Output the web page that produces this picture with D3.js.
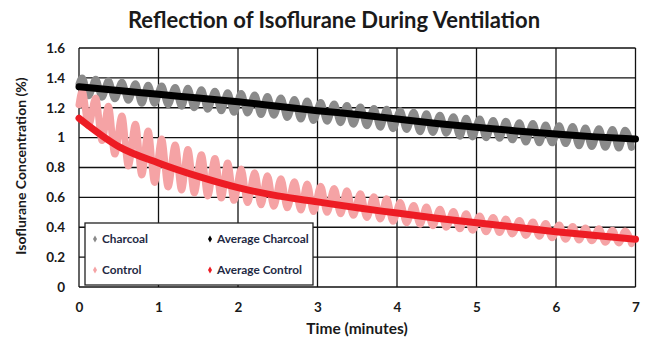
<!DOCTYPE html>
<html>
<head>
<meta charset="utf-8">
<script src="https://cdn.jsdelivr.net/npm/d3@7"></script>
<style>
  html, body { margin: 0; padding: 0; background: #fff; }
  svg text { font-family: Lato, "Open Sans", sans-serif; font-weight: bold; }
</style>
</head>
<body>
<svg id="chart"></svg>
<script>
// ---- data ----
const xTicks = [0, 1, 2, 3, 4, 5, 6, 7]
const yTicks = [0, 0.2, 0.4, 0.6, 0.8, 1, 1.2, 1.4, 1.6]
const yTickLabels = ["0", "0.2", "0.4", "0.6", "0.8", "1", "1.2", "1.4", "1.6"]

// average curves
const avgTimes = [0, 0.5, 1, 1.5, 2, 2.5, 3, 3.5, 4, 4.5, 5, 5.5, 6, 6.5, 7]
const avgCharcoal = [1.34, 1.315, 1.29, 1.265, 1.24, 1.21, 1.18, 1.155, 1.125, 1.095, 1.07, 1.045, 1.025, 1.005, 0.99]
const avgControl = [1.13, 0.94, 0.83, 0.74, 0.665, 0.61, 0.57, 0.53, 0.495, 0.46, 0.43, 0.40, 0.37, 0.345, 0.32]

// raw (breathing) traces: one peak and one trough per breath
const startTime = 0
const charcoalStart = 1.36
const controlStart = 1.22
const peakTimes = [0.04, 0.21, 0.37, 0.54, 0.71, 0.87, 1.04, 1.21, 1.37, 1.54, 1.71, 1.87, 2.04, 2.21,
  2.37, 2.54, 2.71, 2.87, 3.04, 3.21, 3.37, 3.54, 3.71, 3.87, 4.04, 4.21, 4.37, 4.54, 4.71, 4.87,
  5.04, 5.21, 5.37, 5.54, 5.71, 5.87, 6.04, 6.21, 6.37, 6.54, 6.71, 6.87]
const troughTimes = [0.12, 0.29, 0.45, 0.62, 0.79, 0.95, 1.12, 1.29, 1.45, 1.62, 1.79, 1.95, 2.12, 2.29,
  2.45, 2.62, 2.79, 2.95, 3.12, 3.29, 3.45, 3.62, 3.79, 3.95, 4.12, 4.29, 4.45, 4.62, 4.79, 4.95,
  5.12, 5.29, 5.45, 5.62, 5.79, 5.95, 6.12, 6.29, 6.45, 6.62, 6.79, 6.95]
const charcoalPeaks = [1.40, 1.39, 1.38, 1.37, 1.36, 1.35, 1.345, 1.335, 1.33, 1.32, 1.31, 1.30, 1.295, 1.285,
  1.275, 1.265, 1.255, 1.245, 1.235, 1.225, 1.215, 1.205, 1.195, 1.19, 1.18, 1.17, 1.16, 1.15, 1.14, 1.13,
  1.125, 1.115, 1.11, 1.10, 1.095, 1.085, 1.08, 1.075, 1.065, 1.06, 1.055, 1.05]
const charcoalTroughs = [1.28, 1.27, 1.26, 1.25, 1.23, 1.23, 1.22, 1.21, 1.20, 1.19, 1.18, 1.17, 1.165, 1.155,
  1.15, 1.135, 1.125, 1.115, 1.11, 1.10, 1.09, 1.08, 1.07, 1.06, 1.055, 1.04, 1.035, 1.03, 1.01, 1.005,
  1.0, 0.995, 0.985, 0.97, 0.965, 0.965, 0.96, 0.945, 0.94, 0.935, 0.93, 0.935]
const controlPeaks = [1.31, 1.265, 1.21, 1.145, 1.09, 1.045, 0.99, 0.95, 0.92, 0.885, 0.86, 0.83, 0.79, 0.765,
  0.745, 0.725, 0.705, 0.69, 0.675, 0.66, 0.645, 0.625, 0.605, 0.59, 0.565, 0.545, 0.535, 0.52, 0.505, 0.49,
  0.475, 0.465, 0.455, 0.445, 0.435, 0.425, 0.415, 0.405, 0.395, 0.39, 0.38, 0.375]
const controlTroughs = [1.08, 0.98, 0.89, 0.81, 0.75, 0.70, 0.67, 0.65, 0.63, 0.61, 0.595, 0.58, 0.565, 0.55,
  0.54, 0.53, 0.515, 0.505, 0.50, 0.49, 0.48, 0.465, 0.455, 0.44, 0.43, 0.42, 0.41, 0.40, 0.39, 0.38,
  0.37, 0.365, 0.355, 0.345, 0.34, 0.33, 0.32, 0.315, 0.31, 0.30, 0.295, 0.29]

const legendItems = ["Charcoal", "Average Charcoal", "Control", "Average Control"]
const colors = { charcoal: "#8a8a8a", avgCharcoal: "#000000", control: "#f5a3a5", avgControl: "#ed1c24" }

// ---- layout ----
const width = 649, height = 339
const margin = { top: 48, right: 13, bottom: 52, left: 79 }

const svg = d3.select('#chart')
    .attr("width", width)
    .attr("height", height)

const x = d3.scaleLinear().domain([0, 7]).range([margin.left, width - margin.right - 0.5])
const y = d3.scaleLinear().domain([0, 1.6]).range([height - margin.bottom, margin.top])

// title
svg.append("text")
    .attr("x", 334).attr("y", 28)
    .attr("text-anchor", "middle")
    .attr("font-size", 22)
    .attr("fill", "#1a1a1a")
    .text("Reflection of Isoflurane During Ventilation")

// grid
const grid = svg.append("g").attr("stroke", "#111").attr("stroke-width", 1.3)
grid.selectAll(".gx").data(xTicks).join("line")
    .attr("x1", d => x(d)).attr("x2", d => x(d))
    .attr("y1", y(0)).attr("y2", y(1.6))
grid.selectAll(".gy").data(yTicks).join("line")
    .attr("x1", x(0)).attr("x2", x(7))
    .attr("y1", d => y(d)).attr("y2", d => y(d))

// axes labels via d3 axes (no domain / tick lines)
const xAxis = svg.append("g")
    .attr("transform", `translate(0, ${y(0)})`)
    .call(d3.axisBottom(x).tickValues(xTicks).tickSize(0).tickPadding(15).tickFormat(d3.format("d")))
const yAxis = svg.append("g")
    .attr("transform", `translate(${x(0)}, 0)`)
    .call(d3.axisLeft(y).tickValues(yTicks).tickSize(0).tickPadding(14).tickFormat((d, i) => yTickLabels[i]))
for (const ax of [xAxis, yAxis]) {
    ax.select(".domain").remove()
    ax.selectAll("text").attr("font-size", 13.5).attr("fill", "#1a1a1a")
        .style("font-family", "Lato, sans-serif").style("font-weight", "bold")
}

svg.append("text")
    .attr("x", 357).attr("y", 334)
    .attr("text-anchor", "middle")
    .attr("font-size", 15.5)
    .attr("fill", "#1a1a1a")
    .text("Time (minutes)")
svg.append("text")
    .attr("transform", `translate(26, ${166}) rotate(-90)`)
    .attr("text-anchor", "middle")
    .attr("font-size", 14)
    .attr("fill", "#1a1a1a")
    .text("Isoflurane Concentration (%)")

// series
function trace(start, peaks, troughs) {
    const pts = [[startTime, start]]
    peakTimes.forEach((t, i) => pts.push([t, peaks[i]]))
    troughTimes.forEach((t, i) => pts.push([t, troughs[i]]))
    return pts.sort((a, b) => a[0] - b[0])
}
const line = d3.line().x(d => x(d[0])).y(d => y(d[1]))
const plot = svg.append("g").attr("fill", "none").attr("stroke-linecap", "round").attr("stroke-linejoin", "round")

plot.append("path")
    .datum(trace(charcoalStart, charcoalPeaks, charcoalTroughs))
    .attr("d", line.curve(d3.curveMonotoneX))
    .attr("stroke", colors.charcoal).attr("stroke-width", 7)
plot.append("path")
    .datum(trace(controlStart, controlPeaks, controlTroughs))
    .attr("d", line.curve(d3.curveMonotoneX))
    .attr("stroke", colors.control).attr("stroke-width", 7)
plot.append("path")
    .datum(avgTimes.map((t, i) => [t, avgCharcoal[i]]))
    .attr("d", line.curve(d3.curveMonotoneX))
    .attr("stroke", colors.avgCharcoal).attr("stroke-width", 7)
plot.append("path")
    .datum(avgTimes.map((t, i) => [t, avgControl[i]]))
    .attr("d", line.curve(d3.curveMonotoneX))
    .attr("stroke", colors.avgControl).attr("stroke-width", 7)

// legend
const legend = svg.append("g").attr("transform", "translate(85, 223)")
legend.append("rect")
    .attr("width", 228).attr("height", 62)
    .attr("fill", "#fff").attr("stroke", "#222").attr("stroke-width", 1.3)
const legendColors = [colors.charcoal, colors.avgCharcoal, colors.control, colors.avgControl]
const entries = legend.selectAll(".entry").data(legendItems).join("g")
    .attr("transform", (d, i) => `translate(${i % 2 === 0 ? 10 : 125}, ${i < 2 ? 16 : 47})`)
entries.append("path")
    .attr("d", d3.symbol(d3.symbolDiamond, 14))
    .attr("fill", (d, i) => legendColors[i])
entries.append("text")
    .attr("x", 7).attr("y", 4)
    .attr("font-size", 11.8)
    .attr("fill", "#1f2a44")
    .text(d => d)
</script>
</body>
</html>
